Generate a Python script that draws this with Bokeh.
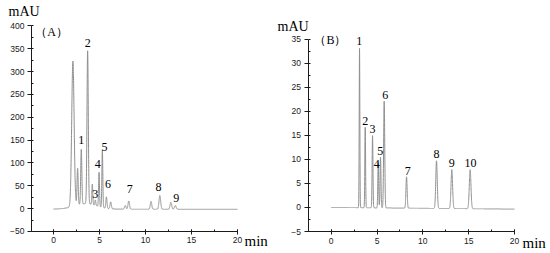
import numpy as np
from bokeh.plotting import figure
from bokeh.layouts import row
from bokeh.models import SingleIntervalTicker, ColumnDataSource
from bokeh.core.properties import value
from bokeh.embed import file_html
from bokeh.resources import INLINE

# ---------------- data: chromatogram (A) ----------------
a_times = [2.11, 2.62, 3.02, 3.71, 4.22, 4.55, 4.95, 5.31, 5.75, 6.22, 7.80, 8.18, 10.60, 11.56, 12.76, 13.24, 3.5]
a_heights = [318, 80, 120, 335, 45, 12, 75, 125, 25, 15, 8, 18, 17, 30, 15, 8, 12]
a_sigmas = [0.13, 0.06, 0.06, 0.07, 0.05, 0.05, 0.05, 0.05, 0.06, 0.07, 0.08, 0.08, 0.08, 0.09, 0.09, 0.09, 1.2]
a_base = [-1.0, -1.5]
a_lab_text = ["1", "2", "3", "4", "5", "6", "7", "8", "9"]
a_lab_x = [3.02, 3.71, 4.55, 4.80, 5.53, 5.93, 8.29, 11.42, 13.35]
a_lab_y = [151, 363, 33, 97, 136, 54, 44, 48, 24]

# ---------------- data: chromatogram (B) ----------------
b_times = [3.09, 3.71, 4.51, 5.13, 5.38, 5.78, 8.22, 11.49, 13.16, 15.16]
b_heights = [33.1, 16.7, 15.0, 9.4, 10.5, 22.2, 6.5, 9.9, 8.1, 8.1]
b_sigmas = [0.035, 0.04, 0.045, 0.045, 0.05, 0.06, 0.065, 0.08, 0.085, 0.09]
b_base = [0.0, -0.35]
b_lab_text = ["1", "2", "3", "4", "5", "6", "7", "8", "9", "10"]
b_lab_x = [3.05, 3.71, 4.51, 4.98, 5.35, 5.89, 8.36, 11.49, 13.16, 15.20]
b_lab_y = [34.5, 17.9, 16.4, 9.1, 11.7, 23.3, 7.6, 11.2, 9.3, 9.3]

t = np.linspace(0, 20, 4001)


def trace(times, heights, sigmas, base):
    y = np.linspace(base[0], base[1], t.size)
    for c, h, s in zip(times, heights, sigmas):
        y = y + h * np.exp(-0.5 * ((t - c) / s) ** 2)
    return y


LINE = "#8f8f8f"
AX = "#1a1a1a"
TXT = "#000000"


def make(xr, yr, ybounds, xloc, ystep, trace_y, lab_text, lab_x, lab_y,
         panel, panel_xy, mau_xy, min_xy):
    p = figure(width=275, height=253, x_range=xr, y_range=yr,
               output_backend="svg", toolbar_location=None,
               min_border=0)
    p.outline_line_color = None
    p.background_fill_color = "white"
    p.border_fill_color = "white"
    p.grid.visible = False
    p.line(t, trace_y, line_color=LINE, line_width=1)

    p.xaxis.ticker = SingleIntervalTicker(interval=5, num_minor_ticks=2)
    p.yaxis.ticker = SingleIntervalTicker(interval=ystep, num_minor_ticks=2)
    p.xaxis.fixed_location = ybounds[0]
    p.yaxis.fixed_location = xloc
    p.xaxis.bounds = (xloc, 20)
    p.yaxis.bounds = ybounds
    for ax in (p.xaxis[0], p.yaxis[0]):
        ax.axis_line_color = AX
        ax.major_tick_line_color = AX
        ax.minor_tick_line_color = AX
        ax.major_label_text_font = "Liberation Sans"
        ax.major_label_text_font_size = "8.5px"
        ax.major_label_text_color = AX
        ax.major_label_standoff = 3
    p.xaxis.major_tick_in = 2
    p.xaxis.major_tick_out = 3
    p.xaxis.minor_tick_in = 2
    p.xaxis.minor_tick_out = 0
    p.yaxis.major_tick_in = 0
    p.yaxis.major_tick_out = 4
    p.yaxis.minor_tick_in = 2
    p.yaxis.minor_tick_out = 0

    src = ColumnDataSource(dict(x=lab_x, y=lab_y, text=lab_text))
    p.text(x="x", y="y", text="text", source=src, text_font=value("Liberation Serif"),
           text_font_size="12px", text_align="center", text_baseline="middle",
           text_color=TXT)
    p.text(x=[panel_xy[0]], y=[panel_xy[1]], text=[panel], text_font=value("Liberation Serif"),
           text_font_size="12px", text_align="center", text_baseline="middle",
           text_color=TXT)
    p.text(x=[mau_xy[0]], y=[mau_xy[1]], text=["mAU"], text_font=value("Liberation Serif"),
           text_font_size="14px", text_align="left", text_baseline="middle",
           text_color=TXT)
    p.text(x=[min_xy[0]], y=[min_xy[1]], text=["min"], text_font=value("Liberation Serif"),
           text_font_size="15px", text_align="left", text_baseline="middle",
           text_color=TXT)
    return p


pa = make((-5.761, 24.13), (-98.2, 455.8), (-50, 400), -2.4, 50,
          trace(a_times, a_heights, a_sigmas, a_base),
          a_lab_text, a_lab_x, a_lab_y, "（A）", (-0.22, 385.8), (-4.89, 431.0), (20.76, -71.9))
pb = make((-6.08, 23.93), (-9.57, 43.0), (-5, 35), -2.53, 5,
          trace(b_times, b_heights, b_sigmas, b_base),
          b_lab_text, b_lab_x, b_lab_y, "（B）", (-0.08, 34.7), (-5.86, 37.5), (20.87, -7.29))

layout = row(pa, pb)
open("out.html", "w").write(file_html(layout, INLINE))
